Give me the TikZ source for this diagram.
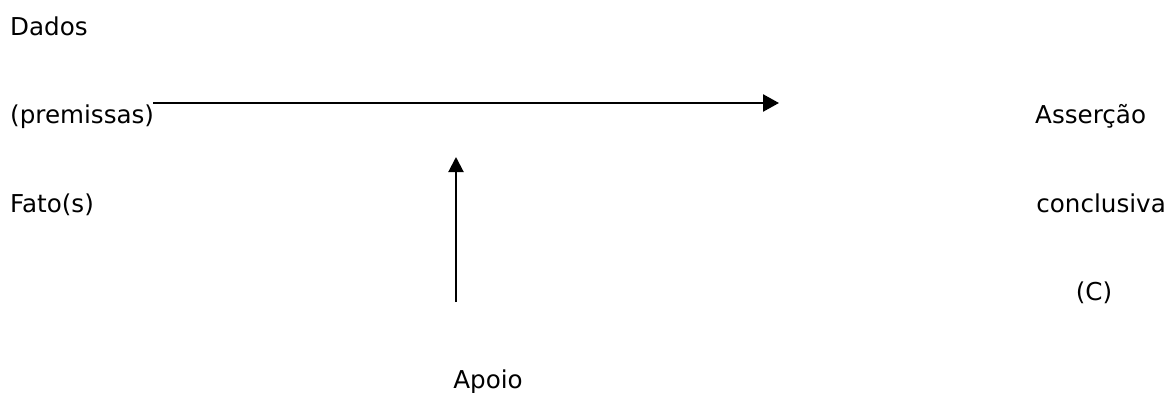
\documentclass[tikz,border=0pt]{standalone}
\usepackage{fontspec}
\setmainfont{DejaVu Sans}
\usetikzlibrary{arrows.meta}
\begin{document}
\begin{tikzpicture}[x=1pt,y=1pt,
  lbl/.style={inner sep=0pt, font=\fontsize{24.6}{28}\selectfont},
  conn/.style={line width=2.5pt, -{Triangle[length=16pt,width=17pt]}},
  conn2/.style={line width=2pt, -{Triangle[length=15pt,width=15pt]}}]
\useasboundingbox (0,0) rectangle (1168,392);
\node[lbl, anchor=base west] (dados) at (10,356) {Dados};
\node[lbl, anchor=base west] (prem) at (10,269) {(premissas)};
\node[lbl, anchor=base west] (fato) at (10,180) {Fato(s)};
\node[lbl, anchor=base west] (ass) at (1035,269) {Asserção};
\node[lbl, anchor=base east] (conc) at (1166,180) {conclusiva};
\node[lbl, anchor=base] (c) at (1094,92) {(C)};
\node[lbl, anchor=base] (apoio) at (488,4) {Apoio};
\coordinate (hs) at (153,289);
\coordinate (he) at (779,289);
\coordinate (vs) at (456,90);
\coordinate (ve) at (456,235);
\draw[conn] (hs) -- (he);
\draw[conn2] (vs) -- (ve);
\end{tikzpicture}
\end{document}
